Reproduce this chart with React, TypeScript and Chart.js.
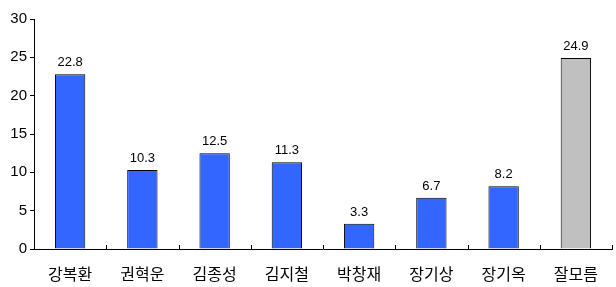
import React, { useEffect, useRef } from "react";
import { Chart, registerables } from "chart.js";

Chart.register(...registerables);

const categories = ["강복환", "권혁운", "김종성", "김지철", "박창재", "장기상", "장기옥", "잘모름"];
const values = [22.8, 10.3, 12.5, 11.3, 3.3, 6.7, 8.2, 24.9];
const barColors = ["#3366FF", "#3366FF", "#3366FF", "#3366FF", "#3366FF", "#3366FF", "#3366FF", "#C0C0C0"];
const yTicks = [0, 5, 10, 15, 20, 25, 30];

const FONT = "'Liberation Sans', 'Noto Sans CJK KR', sans-serif";
const KFONT = "'Noto Sans CJK KR', sans-serif";

const labelPlugin = {
  id: "valueLabels",
  afterDatasetsDraw(chart: any) {
    const { ctx } = chart;
    const meta = chart.getDatasetMeta(0);
    ctx.save();
    ctx.fillStyle = "#000";
    ctx.font = `13px ${FONT}`;
    ctx.textAlign = "center";
    ctx.textBaseline = "bottom";
    meta.data.forEach((bar: any, i: number) => {
      ctx.fillText(values[i].toFixed(1), bar.x, bar.y - 5);
    });
    ctx.restore();
  },
};

const xTickPlugin = {
  id: "xInnerTicks",
  afterDraw(chart: any) {
    const { ctx } = chart;
    const xs = chart.scales.x;
    const bottom = chart.chartArea.bottom;
    ctx.save();
    ctx.strokeStyle = "#000";
    ctx.lineWidth = 1;
    for (let i = 0; i < categories.length; i++) {
      const p = xs.getPixelForValue(i);
      const next = i < categories.length - 1 ? xs.getPixelForValue(i + 1) : p + (p - xs.getPixelForValue(i - 1));
      const x = Math.round((p + next) / 2) + 0.5;
      ctx.beginPath();
      ctx.moveTo(x, bottom);
      ctx.lineTo(x, bottom - 4);
      ctx.stroke();
    }
    ctx.restore();
  },
};

export default function App() {
  const ref = useRef<HTMLCanvasElement>(null);
  useEffect(() => {
    document.body.style.margin = "0";
    const chart = new Chart(ref.current!, {
      type: "bar",
      data: {
        labels: categories,
        datasets: [
          {
            data: values,
            backgroundColor: barColors,
            borderColor: "#000",
            borderWidth: 1,
            barPercentage: 0.42,
            categoryPercentage: 1,
          },
        ],
      },
      options: {
        animation: false,
        responsive: false,
        maintainAspectRatio: false,
        layout: { padding: { left: 0, right: 4, top: 19, bottom: 0 } },
        plugins: { legend: { display: false }, tooltip: { enabled: false } },
        scales: {
          x: {
            grid: { display: false },
            border: { display: true, color: "#000", width: 1 },
            ticks: { color: "#000", font: { size: 16, family: KFONT }, padding: 7, maxRotation: 0 },
            afterFit: (s: any) => { s.height = 38; },
          },
          y: {
            min: 0,
            max: 30,
            afterBuildTicks: (s: any) => { s.ticks = yTicks.map((v) => ({ value: v })); },
            grid: { drawOnChartArea: false, drawTicks: true, tickLength: 4, color: "#000" },
            border: { display: true, color: "#000", width: 1 },
            ticks: { color: "#000", font: { size: 15, family: FONT }, padding: 3 },
            afterFit: (s: any) => { s.width = 34; },
          },
        },
      },
      plugins: [labelPlugin, xTickPlugin],
    });
    return () => chart.destroy();
  }, []);
  return (
    <div style={{ width: 616, height: 287 }}>
      <canvas ref={ref} width={616} height={287} style={{ display: "block" }} />
    </div>
  );
}
